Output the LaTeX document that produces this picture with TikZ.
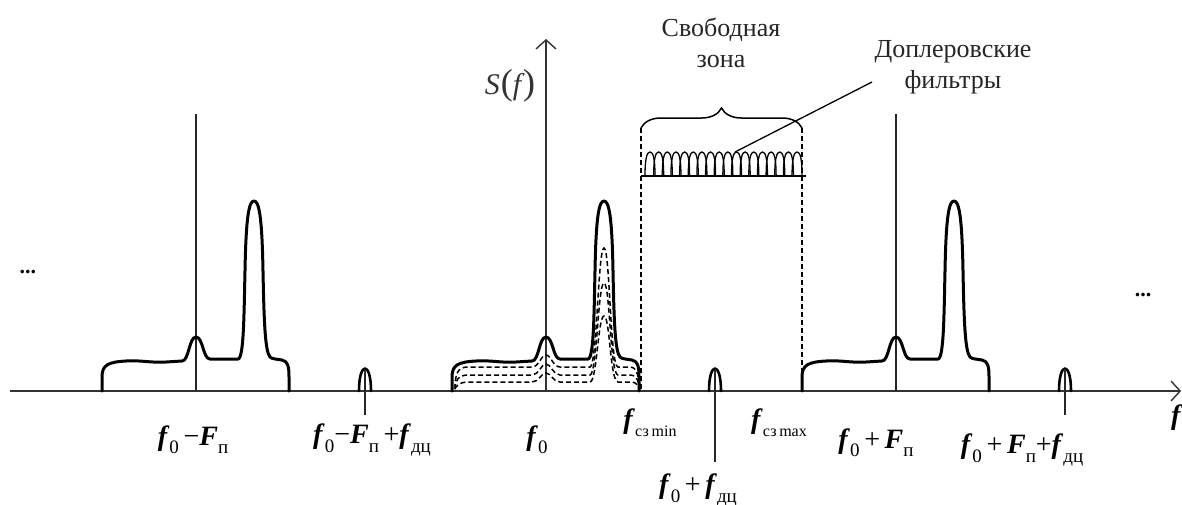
\documentclass[tikz,border=0pt]{standalone}
\usepackage{fontspec}
\setmainfont{Liberation Serif}
\usetikzlibrary{arrows.meta,decorations.pathreplacing}
\newcommand\bfi[1]{\textbf{\textit{#1}}}
\newcommand\sbs[1]{\raisebox{-0.3em}{\fontsize{19}{19}\selectfont #1}}
\newcommand\sbsm[1]{\raisebox{-0.3em}{\fontsize{16}{16}\selectfont #1}}
\tikzset{
  axisline/.style={line width=1.8pt, draw=black!80, -{Straight Barb[length=9pt,width=20pt,line width=1.4pt]}},
  spectrum/.style={line width=3pt, line join=round, line cap=round},
  dsh/.style={line width=1.5pt, dash pattern=on 5pt off 3pt},
  thin/.style={line width=1.2pt, draw=black!85},
  lab/.style={font=\fontsize{28}{28}\selectfont, inner sep=0pt},
  txt/.style={font=\fontsize{26}{31}\selectfont, align=center, inner sep=0pt, text=black!85},
  spec/.pic={
    \draw[spectrum] (-94,0) -- (-94,-14)
      .. controls (-94,-26) and (-88,-29) .. (-70,-30)
      .. controls (-55,-31) and (-45,-28) .. (-30,-29) -- (-14,-30)
      .. controls (-7,-30) and (-7,-54) .. (0,-54)
      .. controls (7,-54) and (7,-32) .. (14,-32) -- (42,-32)
      .. controls (48,-32) and (48,-80) .. (49,-120)
      .. controls (50,-175) and (53,-190) .. (58,-190)
      .. controls (63,-190) and (66,-175) .. (67,-120)
      .. controls (68,-70) and (69,-40) .. (74,-34)
      .. controls (76,-32) and (80,-32) .. (86,-31)
      .. controls (92,-30) and (93,-24) .. (93,-14) -- (93,0);
    \draw[spectrum, line width=2.6pt] (163,0) .. controls (163,-30) and (175,-30) .. (175,0);
  }
}
\newcommand\dcurve[3]{%
  \draw[dsh] (-91,-2) .. controls (-91,{#1+6}) and (-88,#1) .. (-78,#1) -- (-14,#1)
    .. controls (-7,#1) and (-5,#2) .. (0,#2) .. controls (5,#2) and (7,#1) .. (14,#1) -- (44,#1)
    .. controls (51,#1) and (52,#3) .. (58,#3) .. controls (64,#3) and (64,#1) .. (72,#1)
    -- (84,#1) .. controls (92,#1) and (93,{#1/2}) .. (93,0);}
\begin{document}
\begin{tikzpicture}[x=1pt,y=-1pt]
\useasboundingbox (0,0) rectangle (1182,504);
% axes
\coordinate (xs) at (10,391);
\coordinate (xe) at (1181,391);
\coordinate (ys) at (546,391);
\coordinate (ye) at (546,39);
\draw[axisline] (xs) -- (xe);
\draw[axisline] (ys) -- (ye);
\node[font=\fontsize{30}{30}\selectfont\itshape, inner sep=0pt, text=black!80] (S) at (510,86) {S\kern1pt{\fontsize{36}{36}\selectfont\upshape(}f\kern2pt{\fontsize{36}{36}\selectfont\upshape)}};
\node[lab, anchor=west] (fax) at (1171,418) {\bfi{f}};
% vertical lines
\coordinate (vl1) at (196,114); \coordinate (vl1b) at (196,391);
\coordinate (vl2) at (896,114); \coordinate (vl2b) at (896,391);
\draw[thin] (vl1) -- (vl1b);
\draw[thin] (vl2) -- (vl2b);
% spectra
\pic at (196,391) {spec};
\pic at (546,391) {spec};
\pic at (896,391) {spec};
% dashed inner curves
\begin{scope}[shift={(546,391)}]
\dcurve{-24}{-36}{-143}
\dcurve{-16}{-27}{-108}
\dcurve{-9}{-18}{-75}
\end{scope}
% free zone
\coordinate (zl) at (641,128); \coordinate (zlb) at (641,391);
\coordinate (zr) at (802,128); \coordinate (zrb) at (802,391);
\draw[dsh] (zl) -- (zlb);
\draw[dsh] (zr) -- (zrb);
\draw[line width=1.5pt, decorate, decoration={brace, amplitude=20pt}] (zl) -- (zr);
% doppler filters
\coordinate (fb1) at (641,176); \coordinate (fb2) at (806,176);
\draw[line width=1.8pt] (fb1) -- (fb2);
\foreach \i in {0,...,17}{
  \pgfmathsetmacro\xo{645+\i*8.65}
  \draw[line width=1.3pt] (\xo,176) .. controls (\xo,158) and (\xo+2,152) .. (\xo+5,152)
     .. controls (\xo+8,152) and (\xo+10,158) .. (\xo+10,176);
}
\node[txt] (zone) at (721,43) {Свободная\\зона};
\node[txt] (dop) at (953,67) {Доплеровские\\фильтры};
\coordinate (fp) at (735,152);
\coordinate (le) at (872,82);
\draw[line width=1.3pt] (fp) -- (le);
% ticks of doppler components
\coordinate (t1) at (365,369); \coordinate (t1b) at (365,415);
\coordinate (t2) at (715,369); \coordinate (t2b) at (715,462);
\coordinate (t3) at (1065,369); \coordinate (t3b) at (1065,415);
\draw[thin] (t1) -- (t1b);
\draw[thin] (t2) -- (t2b);
\draw[thin] (t3) -- (t3b);
% labels
\node[lab] (l1) at (193,440) {\bfi{f}\sbs{0}\,−\bfi{F}\sbs{п}};
\node[lab] (l2) at (372,440) {\bfi{f}\sbs{0}−\bfi{F}\sbs{п}\,+\bfi{f}\sbs{дц}};
\node[lab] (l3) at (537,440) {\bfi{f}\sbs{0}};
\node[lab] (l4) at (650,423) {\bfi{f}\sbsm{сз\,min}};
\node[lab] (l5) at (779,423) {\bfi{f}\sbsm{сз\,max}};
\node[lab] (l6) at (876,443) {\bfi{f}\sbs{0}\,+\,\bfi{F}\sbs{п}};
\node[lab] (l7) at (1022,450) {\bfi{f}\sbs{0}\,+\,\bfi{F}\sbs{п}+\bfi{f}\sbs{дц}};
\node[lab] (l8) at (698,490) {\bfi{f}\sbs{0}\,+\,\bfi{f}\sbs{дц}};
\node[lab, font=\fontsize{22}{22}\bfseries] (d1) at (28,272) {...};
\node[lab, font=\fontsize{22}{22}\bfseries] (d2) at (1143,295) {...};
\end{tikzpicture}
\end{document}
